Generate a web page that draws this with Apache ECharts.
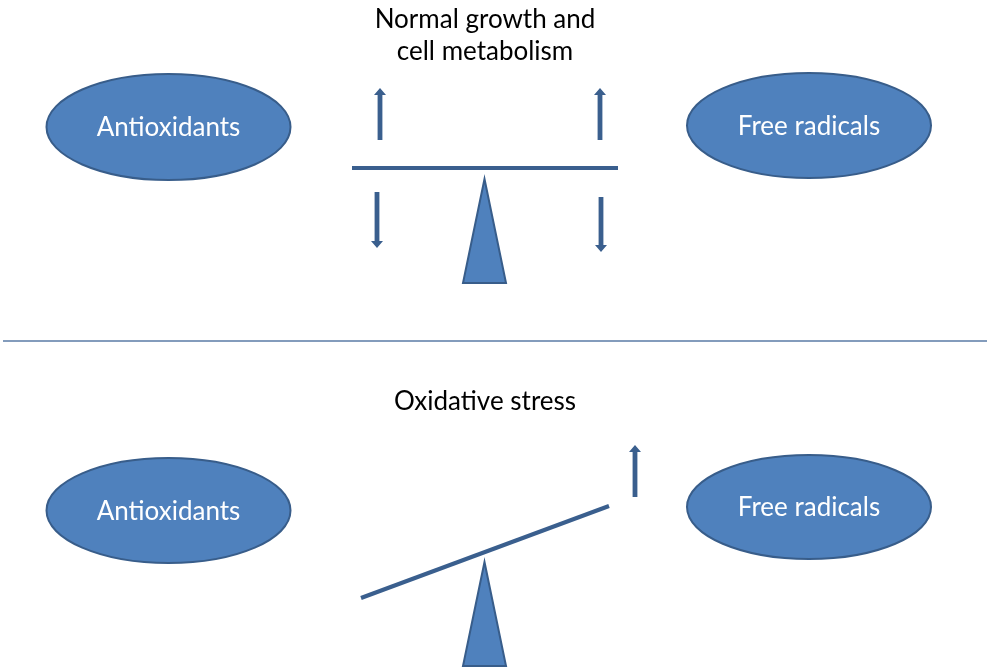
<!DOCTYPE html>
<html>
<head>
<meta charset="utf-8">
<script src="https://cdn.jsdelivr.net/npm/echarts@6/dist/echarts.min.js"></script>
<style>
html,body{margin:0;padding:0;background:#fff;}
#chart{width:987px;height:671px;}
</style>
</head>
<body>
<div id="chart"></div>
<script>
// ---- Data (diagram coordinates in a 987 x 671 value space) ----
const ellipseLabels = ['Antioxidants', 'Free radicals', 'Antioxidants', 'Free radicals'];
const ellipseCenterX = [168.5, 809, 168.5, 809];
const ellipseCenterY = [127, 125.5, 510.5, 507];
const ellipseRadiusX = [122, 122, 122, 122];
const ellipseRadiusY = [53, 52.5, 52.5, 52];

const captionTexts = ['Normal growth and', 'cell metabolism', 'Oxidative stress'];
const captionX = [485, 485, 485];
const captionY = [20, 52, 402];

const beamStartX = [352, 361, 3];
const beamStartY = [168, 598, 341];
const beamEndX = [618, 609, 987];
const beamEndY = [168, 506, 341];

const fulcrumApexX = [484.5, 484.5];
const fulcrumApexY = [179, 562];
const fulcrumBaseY = [283, 666];
const fulcrumHalfWidth = [21.5, 21.5];

const arrowX = [380, 600, 377, 601, 635];
const arrowTailY = [140, 140, 192, 197, 497];
const arrowTipY = [88, 88, 248, 252, 445];

// ---- Build series ----
const FILL = '#4F81BD';
const STROKE = '#385D8A';
const DARK = '#3A5F8E';

const ellipseData = ellipseLabels.map((l, i) => [ellipseCenterX[i], ellipseCenterY[i], ellipseRadiusX[i], ellipseRadiusY[i], l]);
const captionData = captionTexts.map((t, i) => [captionX[i], captionY[i], t]);
const beamData = beamStartX.map((x, i) => [x, beamStartY[i], beamEndX[i], beamEndY[i], i]);
const fulcrumData = fulcrumApexX.map((x, i) => [x, fulcrumApexY[i], fulcrumBaseY[i], fulcrumHalfWidth[i]]);
const arrowData = arrowX.map((x, i) => [x, arrowTailY[i], arrowTipY[i]]);

const FONT = 'Lato, "Open Sans", sans-serif';

const option = {
  animation: false,
  backgroundColor: '#ffffff',
  grid: { left: 0, right: 0, top: 0, bottom: 0 },
  xAxis: { type: 'value', min: 0, max: 987, show: false },
  yAxis: { type: 'value', min: 0, max: 671, inverse: true, show: false },
  series: [
    {
      type: 'custom',
      name: 'beams',
      data: beamData,
      renderItem: function (params, api) {
        const p1 = api.coord([api.value(0), api.value(1)]);
        const p2 = api.coord([api.value(2), api.value(3)]);
        const isDivider = api.value(4) === 2;
        return {
          type: 'line',
          shape: { x1: p1[0], y1: p1[1], x2: p2[0], y2: p2[1] },
          style: { stroke: isDivider ? '#5A7BA6' : DARK, lineWidth: isDivider ? 1.6 : 4, lineCap: 'butt' }
        };
      }
    },
    {
      type: 'custom',
      name: 'fulcrums',
      data: fulcrumData,
      renderItem: function (params, api) {
        const apex = api.coord([api.value(0), api.value(1)]);
        const bl = api.coord([api.value(0) - api.value(3), api.value(2)]);
        const br = api.coord([api.value(0) + api.value(3), api.value(2)]);
        return {
          type: 'polygon',
          shape: { points: [apex, br, bl] },
          style: { fill: FILL, stroke: STROKE, lineWidth: 2, lineJoin: 'miter' }
        };
      }
    },
    {
      type: 'custom',
      name: 'arrows',
      data: arrowData,
      renderItem: function (params, api) {
        const tail = api.coord([api.value(0), api.value(1)]);
        const tip = api.coord([api.value(0), api.value(2)]);
        const dir = tip[1] < tail[1] ? -1 : 1;
        const x = tail[0];
        const hw = 2.4, headW = 6, headH = 7;
        const neckY = tip[1] - dir * headH;
        return {
          type: 'polygon',
          shape: {
            points: [
              [x - hw, tail[1]], [x - hw, neckY], [x - headW, neckY], [x, tip[1]],
              [x + headW, neckY], [x + hw, neckY], [x + hw, tail[1]]
            ]
          },
          style: { fill: DARK, stroke: null }
        };
      }
    },
    {
      type: 'custom',
      name: 'ellipses',
      data: ellipseData,
      renderItem: function (params, api) {
        const c = api.coord([api.value(0), api.value(1)]);
        const s = api.size([api.value(2), api.value(3)]);
        return {
          type: 'group',
          children: [
            {
              type: 'ellipse',
              shape: { cx: c[0], cy: c[1], rx: s[0], ry: s[1] },
              style: { fill: FILL, stroke: STROKE, lineWidth: 2 }
            },
            {
              type: 'text',
              x: c[0], y: c[1] + 1,
              style: {
                text: api.value(4), fill: '#ffffff', font: '26px ' + FONT,
                align: 'center', verticalAlign: 'middle'
              }
            }
          ]
        };
      }
    },
    {
      type: 'custom',
      name: 'captions',
      data: captionData,
      renderItem: function (params, api) {
        const c = api.coord([api.value(0), api.value(1)]);
        return {
          type: 'text',
          x: c[0], y: c[1],
          style: {
            text: api.value(2), fill: '#000000', font: '26px ' + FONT,
            align: 'center', verticalAlign: 'middle'
          }
        };
      }
    }
  ]
};

const chart = echarts.init(document.getElementById('chart'), null, { renderer: 'canvas' });
chart.setOption(option);
</script>
</body>
</html>
